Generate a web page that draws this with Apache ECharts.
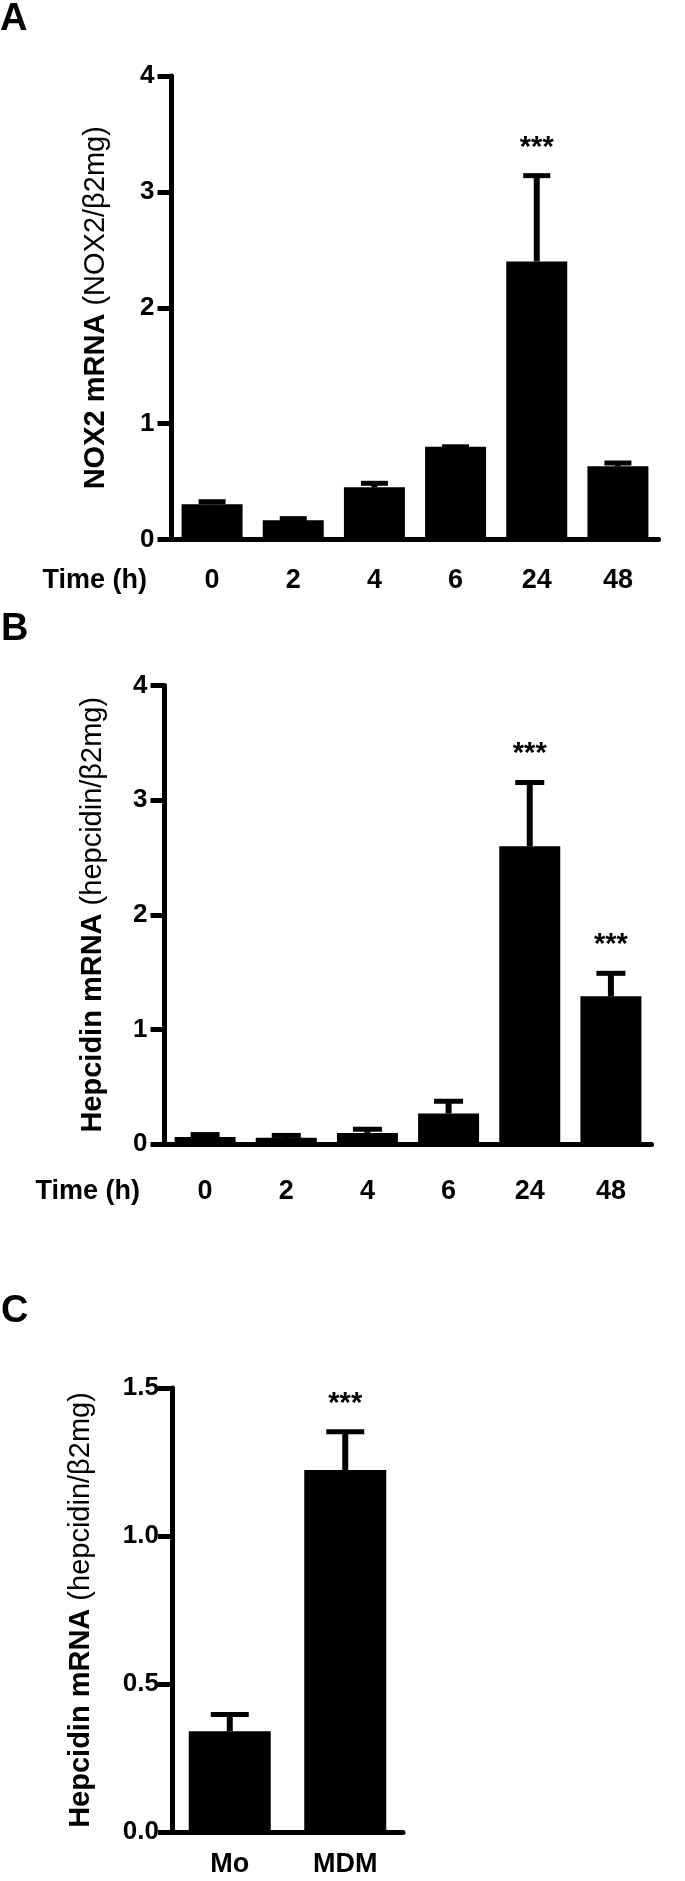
<!DOCTYPE html>
<html><head><meta charset="utf-8">
<script src="https://cdn.jsdelivr.net/npm/echarts@6/dist/echarts.min.js"></script>
<style>html,body{margin:0;padding:0;background:#fff}#c{width:685px;height:1881px}</style>
</head><body><div id="c"></div>
<script>
// ---- data ----
const timeCats = ['0', '2', '4', '6', '24', '48'];
const nox2Mean = [0.305, 0.166, 0.45, 0.80, 2.40, 0.632];
const nox2Err  = [0.021, 0.014, 0.035, 0.0, 0.74, 0.028];
const nox2Sig  = ['', '', '', '', '***', ''];
const hepTimeMean = [0.061, 0.054, 0.097, 0.266, 2.597, 1.288];
const hepTimeErr  = [0.021, 0.021, 0.032, 0.107, 0.557, 0.201];
const hepTimeSig  = ['', '', '', '', '***', '***'];
const cellCats = ['Mo', 'MDM'];
const hepCellMean = [0.340, 1.223];
const hepCellErr  = [0.057, 0.129];
const hepCellSig  = ['', '***'];
const yTimeMax = 4, yTimeStep = 1;
const yCellMax = 1.5, yCellStep = 0.5;
const panelLetters = ['A', 'B', 'C'];
const xTitle = 'Time (h)';

const FF = '"Liberation Sans", Arial, Helvetica, sans-serif';
const chart = echarts.init(document.getElementById('c'), null, {renderer: 'canvas'});

function errRender(means, errs, sigs, capW, lineW, capH) {
  return function (params, api) {
    const i = params.dataIndex;
    const base = api.coord([api.value(0), api.value(1)]);
    const top = api.coord([api.value(0), api.value(2)]);
    const x = base[0];
    const children = [];
    if (base[1] - top[1] > 0) {
      children.push({type: 'rect', shape: {x: x - lineW / 2, y: top[1], width: lineW, height: base[1] - top[1]}, style: {fill: '#000'}});
    }
    children.push({type: 'rect', shape: {x: x - capW / 2, y: top[1] - capH / 2, width: capW, height: capH}, style: {fill: '#000'}});
    if (sigs[i]) {
      children.push({type: 'text', style: {text: sigs[i], x: x, y: top[1] - 28, align: 'center', verticalAlign: 'middle',
        font: 'bold 29px ' + FF, fill: '#000'}});
    }
    return {type: 'group', children: children};
  };
}

function xAxisCfg(gi, cats, margin) {
  return {
    type: 'category', gridIndex: gi, data: cats,
    axisLine: {lineStyle: {color: '#000', width: 5}},
    axisTick: {alignWithLabel: true, length: 13, lineStyle: {color: '#000', width: 5}},
    axisLabel: {color: '#000', fontWeight: 'bold', fontSize: 27, fontFamily: FF, margin: margin},
    splitLine: {show: false}
  };
}
function yAxisCfg(gi, max, step, name, gap, margin, fmt) {
  return {
    type: 'value', gridIndex: gi, min: 0, max: max, interval: step,
    axisLine: {show: true, lineStyle: {color: '#000', width: 5}},
    axisTick: {show: true, length: 14, lineStyle: {color: '#000', width: 5}},
    axisLabel: {color: '#000', fontWeight: 'bold', fontSize: 26, fontFamily: FF, margin: margin, formatter: fmt},
    splitLine: {show: false},
    name: name, nameLocation: 'middle', nameGap: gap, nameRotate: 90,
    nameTextStyle: {color: '#000', fontSize: 29, fontFamily: FF,
      rich: {b: {fontWeight: 'bold', fontSize: 29, fontFamily: FF, color: '#000'},
             n: {fontWeight: 'normal', fontSize: 29, fontFamily: FF, color: '#000'}}}
  };
}
function pairs(means, errs) { return means.map((m, i) => [i, m, m + errs[i]]); }

const option = {
  animation: false,
  backgroundColor: '#fff',
  grid: [
    {left: 171.5, top: 76, width: 487, height: 463.5},
    {left: 164.5, top: 685.5, width: 487, height: 458.5},
    {left: 172, top: 1388, width: 231, height: 444}
  ],
  xAxis: [xAxisCfg(0, timeCats, 28), xAxisCfg(1, timeCats, 34), xAxisCfg(2, cellCats, 19)],
  yAxis: [
    yAxisCfg(0, yTimeMax, yTimeStep, '{b|NOX2 mRNA} {n|(NOX2/β2mg)}', 61, 17, v => String(v)),
    yAxisCfg(1, yTimeMax, yTimeStep, '{b|Hepcidin mRNA} {n|(hepcidin/β2mg)}', 57, 17, v => String(v)),
    yAxisCfg(2, yCellMax, yCellStep, '{b|Hepcidin mRNA} {n|(hepcidin/β2mg)}', 77, 13, v => v.toFixed(1))
  ],
  series: [
    {type: 'bar', xAxisIndex: 0, yAxisIndex: 0, data: nox2Mean, barWidth: 61, itemStyle: {color: '#000'}, z: 2},
    {type: 'custom', xAxisIndex: 0, yAxisIndex: 0, data: pairs(nox2Mean, nox2Err), encode: {x: 0, y: [1, 2]},
      renderItem: errRender(nox2Mean, nox2Err, nox2Sig, 27, 6, 5), z: 3},
    {type: 'bar', xAxisIndex: 1, yAxisIndex: 1, data: hepTimeMean, barWidth: 61, itemStyle: {color: '#000'}, z: 2},
    {type: 'custom', xAxisIndex: 1, yAxisIndex: 1, data: pairs(hepTimeMean, hepTimeErr), encode: {x: 0, y: [1, 2]},
      renderItem: errRender(hepTimeMean, hepTimeErr, hepTimeSig, 29, 6, 5), z: 3},
    {type: 'bar', xAxisIndex: 2, yAxisIndex: 2, data: hepCellMean, barWidth: 82, itemStyle: {color: '#000'}, z: 2},
    {type: 'custom', xAxisIndex: 2, yAxisIndex: 2, data: pairs(hepCellMean, hepCellErr), encode: {x: 0, y: [1, 2]},
      renderItem: errRender(hepCellMean, hepCellErr, hepCellSig, 38, 6, 5), z: 3}
  ],
  graphic: [
    {type: 'text', style: {text: panelLetters[0], x: 0, y: 20, align: 'left', verticalAlign: 'middle', font: 'bold 38px ' + FF, fill: '#000'}},
    {type: 'text', style: {text: panelLetters[1], x: 1, y: 630, align: 'left', verticalAlign: 'middle', font: 'bold 38px ' + FF, fill: '#000'}},
    {type: 'text', style: {text: panelLetters[2], x: 1, y: 1312, align: 'left', verticalAlign: 'middle', font: 'bold 38px ' + FF, fill: '#000'}},
    {type: 'text', style: {text: xTitle, x: 147, y: 581, align: 'right', verticalAlign: 'middle', font: 'bold 27px ' + FF, fill: '#000'}},
    {type: 'text', style: {text: xTitle, x: 140, y: 1192, align: 'right', verticalAlign: 'middle', font: 'bold 27px ' + FF, fill: '#000'}}
  ]
};
chart.setOption(option);
</script>
</body></html>
